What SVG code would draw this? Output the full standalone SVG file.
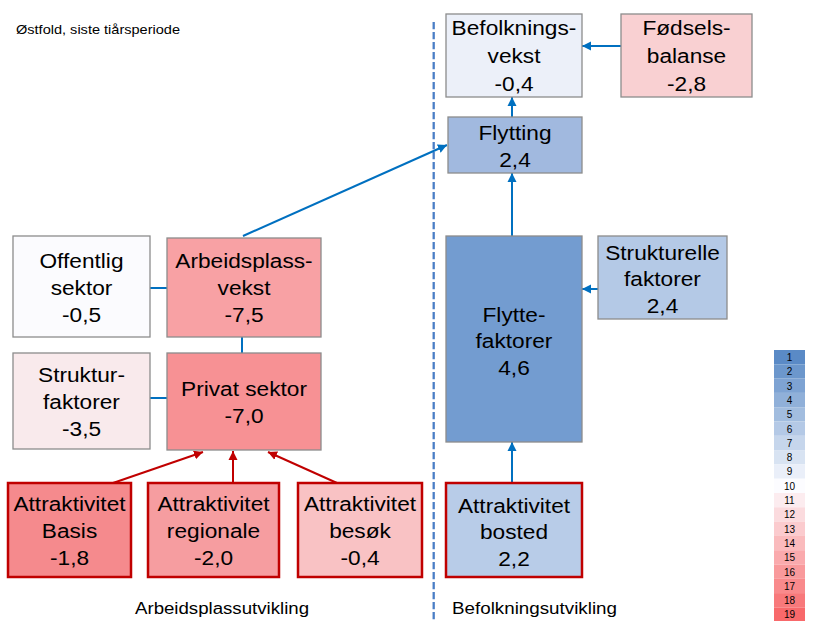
<svg xmlns="http://www.w3.org/2000/svg" width="814" height="621" viewBox="0 0 814 621">
<defs>
<style>
.box{stroke:#8C8C8C;stroke-width:1.3}
.rbox{stroke:#C00000;stroke-width:2.5}
.lbl{font-family:"Liberation Sans",Arial,sans-serif;font-size:21px;fill:#000;text-anchor:middle}
.cap{font-family:"Liberation Sans",Arial,sans-serif;fill:#000}
.blue{stroke:#0070C0;stroke-width:2;fill:none}
.red{stroke:#C00000;stroke-width:2;fill:none}
.leg{font-family:"Liberation Sans",Arial,sans-serif;font-size:10px;fill:#000;text-anchor:middle}
</style>
<marker id="ab" markerUnits="userSpaceOnUse" markerWidth="10" markerHeight="10" refX="9" refY="5" orient="auto"><path d="M0,0.5 L9,5 L0,9.5 z" fill="#0070C0"/></marker>
<marker id="ar" markerUnits="userSpaceOnUse" markerWidth="10" markerHeight="10" refX="9" refY="5" orient="auto"><path d="M0,0.5 L9,5 L0,9.5 z" fill="#C00000"/></marker>
</defs>
<rect width="814" height="621" fill="#FFFFFF"/>
<text class="cap" x="16" y="34" font-size="13" textLength="164" lengthAdjust="spacingAndGlyphs">Østfold, siste tiårsperiode</text>
<line x1="433.7" y1="22" x2="433.7" y2="621" stroke="#4A7EC6" stroke-width="2.3" stroke-dasharray="7.3,2.7"/>
<g id="connectors">
<line class="blue" x1="621" y1="46" x2="582" y2="46" marker-end="url(#ab)"/>
<line class="blue" x1="512" y1="117" x2="512" y2="97" marker-end="url(#ab)"/>
<line class="blue" x1="512" y1="236" x2="512" y2="173" marker-end="url(#ab)"/>
<line class="blue" x1="598" y1="289" x2="582" y2="289" marker-end="url(#ab)"/>
<line class="blue" x1="512" y1="483" x2="512" y2="442" marker-end="url(#ab)"/>
<line class="blue" x1="243" y1="236" x2="447" y2="145" marker-end="url(#ab)"/>
<line class="blue" x1="150" y1="288" x2="167" y2="288"/>
<line class="blue" x1="242" y1="337" x2="242" y2="353"/>
<line class="blue" x1="150" y1="398" x2="167" y2="398"/>
<line class="red" x1="113" y1="483" x2="203" y2="452" marker-end="url(#ar)"/>
<line class="red" x1="233" y1="483" x2="233" y2="451" marker-end="url(#ar)"/>
<line class="red" x1="337" y1="483" x2="268" y2="452" marker-end="url(#ar)"/>
</g>
<g id="befolkningsvekst">
<rect class="box" x="446" y="14" width="136" height="83" fill="#ECF0F9"/>
<text class="lbl" transform="translate(514,35) scale(1.08,1)"><tspan x="0" y="0">Befolknings-</tspan><tspan x="0" y="28">vekst</tspan><tspan x="0" y="56">-0,4</tspan></text>
</g>
<g id="fodselsbalanse">
<rect class="box" x="621" y="14" width="131" height="83" fill="#F9D0D2"/>
<text class="lbl" transform="translate(686.5,35) scale(1.08,1)"><tspan x="0" y="0">Fødsels-</tspan><tspan x="0" y="28">balanse</tspan><tspan x="0" y="56">-2,8</tspan></text>
</g>
<g id="flytting">
<rect class="box" x="448" y="117" width="134" height="56" fill="#A1B9DF"/>
<text class="lbl" transform="translate(515,140) scale(1.08,1)"><tspan x="0" y="0">Flytting</tspan><tspan x="0" y="27">2,4</tspan></text>
</g>
<g id="flyttefaktorer">
<rect class="box" x="446" y="236" width="136" height="206" fill="#739CD0"/>
<text class="lbl" transform="translate(514,322) scale(1.08,1)"><tspan x="0" y="0">Flytte-</tspan><tspan x="0" y="26.5">faktorer</tspan><tspan x="0" y="53">4,6</tspan></text>
</g>
<g id="strukturelle-faktorer">
<rect class="box" x="598" y="236" width="129" height="83" fill="#B4C9E6"/>
<text class="lbl" transform="translate(662.5,260) scale(1.08,1)"><tspan x="0" y="0">Strukturelle</tspan><tspan x="0" y="26.5">faktorer</tspan><tspan x="0" y="53">2,4</tspan></text>
</g>
<g id="attraktivitet-bosted">
<rect class="rbox" x="446" y="483" width="136" height="94" fill="#B8CCE8"/>
<text class="lbl" transform="translate(514,513) scale(1.08,1)"><tspan x="0" y="0">Attraktivitet</tspan><tspan x="0" y="26.5">bosted</tspan><tspan x="0" y="53">2,2</tspan></text>
</g>
<g id="offentlig-sektor">
<rect class="box" x="13" y="236" width="137" height="101" fill="#FBFBFE"/>
<text class="lbl" transform="translate(81.5,268) scale(1.08,1)"><tspan x="0" y="0">Offentlig</tspan><tspan x="0" y="27">sektor</tspan><tspan x="0" y="54">-0,5</tspan></text>
</g>
<g id="arbeidsplassvekst">
<rect class="box" x="167" y="238" width="154" height="99" fill="#F8A1A4"/>
<text class="lbl" transform="translate(244,268) scale(1.08,1)"><tspan x="0" y="0">Arbeidsplass-</tspan><tspan x="0" y="27">vekst</tspan><tspan x="0" y="54">-7,5</tspan></text>
</g>
<g id="strukturfaktorer">
<rect class="box" x="13" y="353" width="137" height="96" fill="#F9EAEC"/>
<text class="lbl" transform="translate(81.5,382) scale(1.08,1)"><tspan x="0" y="0">Struktur-</tspan><tspan x="0" y="27">faktorer</tspan><tspan x="0" y="54">-3,5</tspan></text>
</g>
<g id="privat-sektor">
<rect class="box" x="167" y="353" width="154" height="97" fill="#F79194"/>
<text class="lbl" transform="translate(244,396) scale(1.08,1)"><tspan x="0" y="0">Privat sektor</tspan><tspan x="0" y="27">-7,0</tspan></text>
</g>
<g id="attraktivitet-basis">
<rect class="rbox" x="8" y="483" width="123" height="94" fill="#F58A8D"/>
<text class="lbl" transform="translate(69.5,511) scale(1.08,1)"><tspan x="0" y="0">Attraktivitet</tspan><tspan x="0" y="27">Basis</tspan><tspan x="0" y="54">-1,8</tspan></text>
</g>
<g id="attraktivitet-regionale">
<rect class="rbox" x="148" y="483" width="131" height="94" fill="#F69DA0"/>
<text class="lbl" transform="translate(213.5,511) scale(1.08,1)"><tspan x="0" y="0">Attraktivitet</tspan><tspan x="0" y="27">regionale</tspan><tspan x="0" y="54">-2,0</tspan></text>
</g>
<g id="attraktivitet-besok">
<rect class="rbox" x="298" y="483" width="124" height="94" fill="#F9C2C4"/>
<text class="lbl" transform="translate(360,511) scale(1.08,1)"><tspan x="0" y="0">Attraktivitet</tspan><tspan x="0" y="27">besøk</tspan><tspan x="0" y="54">-0,4</tspan></text>
</g>
<text class="cap" x="135" y="614" font-size="16" textLength="174" lengthAdjust="spacingAndGlyphs">Arbeidsplassutvikling</text>
<text class="cap" x="452" y="614" font-size="16" textLength="165" lengthAdjust="spacingAndGlyphs">Befolkningsutvikling</text>
<g id="legend">
<rect x="774" y="350" width="31" height="14.3" fill="#5A8AC6"/>
<rect x="774" y="364.3" width="31" height="14.3" fill="#6C97CC"/>
<rect x="774" y="378.6" width="31" height="14.3" fill="#7EA3D3"/>
<rect x="774" y="392.9" width="31" height="14.3" fill="#90B0D9"/>
<rect x="774" y="407.2" width="31" height="14.3" fill="#A2BDDF"/>
<rect x="774" y="421.5" width="31" height="14.3" fill="#B4C9E6"/>
<rect x="774" y="435.8" width="31" height="14.3" fill="#C6D6EC"/>
<rect x="774" y="450.1" width="31" height="14.3" fill="#D8E3F2"/>
<rect x="774" y="464.4" width="31" height="14.3" fill="#EAEFF9"/>
<rect x="774" y="478.7" width="31" height="14.3" fill="#FCFCFF"/>
<rect x="774" y="493" width="31" height="14.3" fill="#FCECEF"/>
<rect x="774" y="507.3" width="31" height="14.3" fill="#FBDBDE"/>
<rect x="774" y="521.6" width="31" height="14.3" fill="#FBCBCE"/>
<rect x="774" y="535.9" width="31" height="14.3" fill="#FABBBD"/>
<rect x="774" y="550.2" width="31" height="14.3" fill="#FAAAAD"/>
<rect x="774" y="564.5" width="31" height="14.3" fill="#F99A9C"/>
<rect x="774" y="578.8" width="31" height="14.3" fill="#F98A8C"/>
<rect x="774" y="593.1" width="31" height="14.3" fill="#F8797B"/>
<rect x="774" y="607.4" width="31" height="14.3" fill="#F8696B"/>
<text class="leg" x="789.5" y="361">1</text>
<text class="leg" x="789.5" y="375.3">2</text>
<text class="leg" x="789.5" y="389.6">3</text>
<text class="leg" x="789.5" y="403.9">4</text>
<text class="leg" x="789.5" y="418.2">5</text>
<text class="leg" x="789.5" y="432.5">6</text>
<text class="leg" x="789.5" y="446.8">7</text>
<text class="leg" x="789.5" y="461.1">8</text>
<text class="leg" x="789.5" y="475.4">9</text>
<text class="leg" x="789.5" y="489.7">10</text>
<text class="leg" x="789.5" y="504">11</text>
<text class="leg" x="789.5" y="518.3">12</text>
<text class="leg" x="789.5" y="532.6">13</text>
<text class="leg" x="789.5" y="546.9">14</text>
<text class="leg" x="789.5" y="561.2">15</text>
<text class="leg" x="789.5" y="575.5">16</text>
<text class="leg" x="789.5" y="589.8">17</text>
<text class="leg" x="789.5" y="604.1">18</text>
<text class="leg" x="789.5" y="618.4">19</text>
</g>
</svg>
